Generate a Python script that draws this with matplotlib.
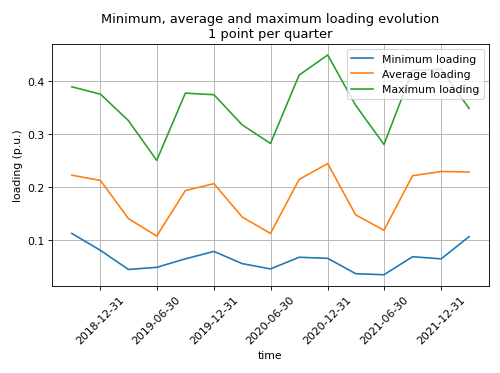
import numpy as np
import pandas as pd
import matplotlib
matplotlib.use("Agg")
import matplotlib.pyplot as plt
import matplotlib.dates as mdates

quarters = pd.date_range("2018-09-30", "2022-03-31", freq="QE")

min_loading = [0.112, 0.080, 0.044, 0.048, 0.064, 0.078, 0.055, 0.045,
               0.067, 0.065, 0.036, 0.034, 0.068, 0.064, 0.106]
avg_loading = [0.222, 0.212, 0.140, 0.107, 0.193, 0.206, 0.143, 0.112,
               0.214, 0.244, 0.147, 0.118, 0.221, 0.229, 0.228]
max_loading = [0.389, 0.375, 0.325, 0.250, 0.377, 0.374, 0.317, 0.282,
               0.411, 0.449, 0.354, 0.280, 0.420, 0.422, 0.348]

tick_dates = pd.to_datetime(["2018-12-31", "2019-06-30", "2019-12-31", "2020-06-30",
                             "2020-12-31", "2021-06-30", "2021-12-31"])

# original looks like a 640x480 figure scaled down
fig, ax = plt.subplots(figsize=(6.4, 4.787), dpi=78.125)
fig.subplots_adjust(left=0.104, right=0.978, top=0.88, bottom=0.233)

ax.plot(quarters, min_loading, label="Minimum loading")
ax.plot(quarters, avg_loading, label="Average loading")
ax.plot(quarters, max_loading, label="Maximum loading")

ax.set_xticks(tick_dates)
ax.xaxis.set_major_formatter(mdates.DateFormatter("%Y-%m-%d"))
plt.setp(ax.get_xticklabels(), rotation=45)
ax.set_yticks([0.1, 0.2, 0.3, 0.4])
ax.set_ylim(0.013, 0.47)

ax.set_title("Minimum, average and maximum loading evolution\n1 point per quarter")
ax.set_xlabel("time")
ax.set_ylabel("loading (p.u.)")
ax.grid(True)
ax.legend(loc="upper right")

fig.savefig("out.png")
